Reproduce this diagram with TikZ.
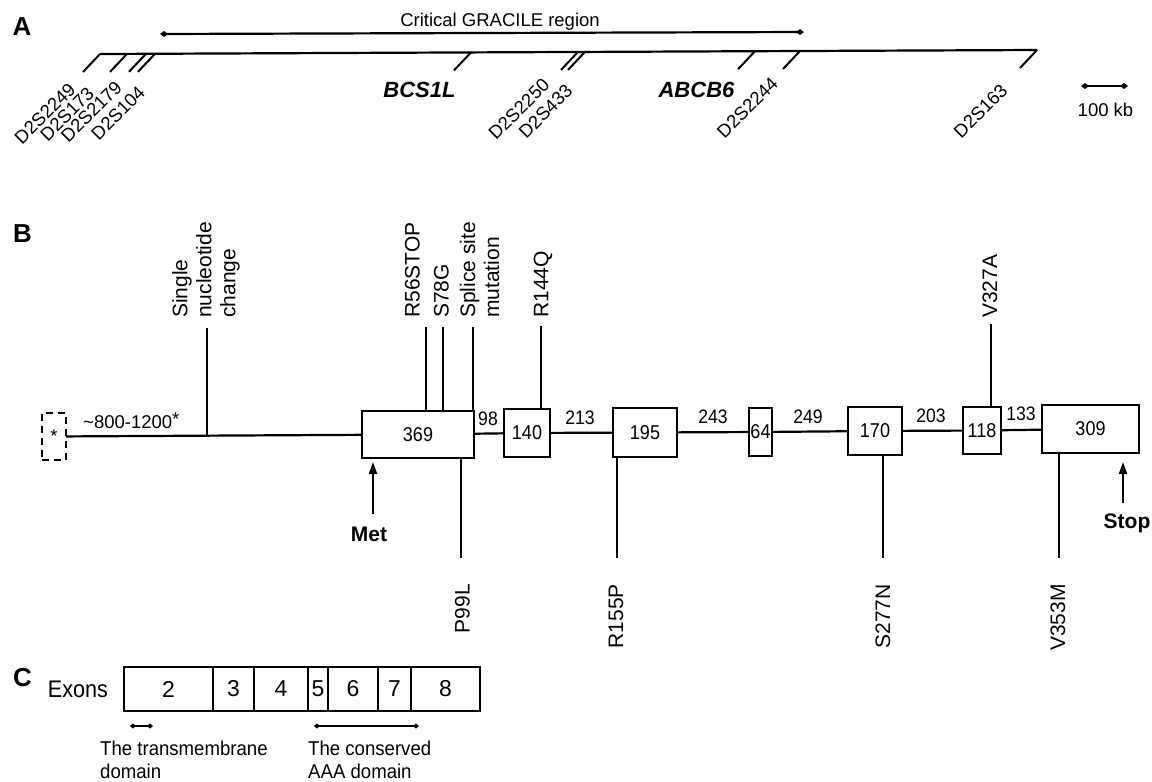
\documentclass[tikz,border=0pt]{standalone}
\usepackage{fontspec}
\setmainfont{Liberation Sans}
\newfontfamily\nfont[FakeStretch=0.9]{Liberation Sans}
\newfontfamily\cfont[FakeStretch=0.93]{Liberation Sans}
\usetikzlibrary{arrows.meta}
\begin{document}
\begin{tikzpicture}[x=1pt,y=-1pt,
  ln/.style={line width=2.2pt},
  dia/.style={line width=2.2pt,{Diamond[length=8pt,width=6pt]}-{Diamond[length=8pt,width=6pt]}},
  sdia/.style={line width=2pt,{Diamond[length=6pt,width=5pt]}-{Diamond[length=6pt,width=5pt]}},
  arr/.style={line width=2.2pt,-{Triangle[length=12pt,width=8pt]}},
  panel/.style={inner sep=0pt,font=\fontsize{26}{30}\selectfont\bfseries},
  lbl/.style={inner sep=0pt,font=\fontsize{18.5}{22}\selectfont},
  mk/.style={inner sep=0pt,rotate=45,anchor=center,font=\fontsize{18.5}{21}\selectfont},
  gene/.style={inner sep=0pt,anchor=base,font=\fontsize{22}{26}\selectfont\bfseries\itshape},
  mut/.style={inner sep=0pt,rotate=90,align=left,font=\fontsize{21}{24}\selectfont},
  exbox/.style={draw,line width=2.4pt,inner sep=0pt,outer sep=0pt,font=\nfont\fontsize{20}{24}\selectfont},
  gapn/.style={inner sep=0pt,anchor=base,font=\nfont\fontsize{19.5}{23}\selectfont},
  bold/.style={inner sep=0pt,anchor=base,font=\fontsize{21}{25}\selectfont\bfseries},
  cex/.style={draw,line width=2pt,inner sep=0pt,outer sep=0pt,minimum height=44pt,font=\fontsize{23}{27}\selectfont},
  ctext/.style={inner sep=0pt,align=left,anchor=north west,font=\cfont\fontsize{20}{23}\selectfont}
]
\useasboundingbox (0,0) rectangle (1152,782);

% ---------------- Panel A ----------------
\node[panel,anchor=base] (pa) at (22,35) {A};
\coordinate (crL) at (160,34);
\coordinate (crR) at (804,32);
\draw[dia] (crL) -- (crR);
\node[lbl,anchor=base] (crt) at (500,26) {Critical GRACILE region};

\coordinate (chL) at (100,54);
\coordinate (chR) at (1037,50);
\draw[ln] (chL) -- (chR);
\foreach \x/\y in {100/54,127/53.9,146/53.8,155/53.8,471/52.4,578/51.9,585/51.9,755/51.2,800/51,1037/50}
  \draw[line width=2pt] (\x,\y) -- ++(-17,18);

\node[mk] (m1) at (45,113.5) {D2S2249};
\node[mk] (m2) at (67,114) {D2S173};
\node[mk] (m3) at (91.5,111.5) {D2S2179};
\node[mk] (m4) at (118,113) {D2S104};
\node[mk] (m5) at (519,109) {D2S2250};
\node[mk] (m6) at (545.5,111.5) {D2S433};
\node[mk] (m7) at (747.5,107.5) {D2S2244};
\node[mk] (m8) at (980.5,111) {D2S163};

\node[gene] (g1) at (419.5,97) {BCS1L};
\node[gene] (g2) at (696.5,97) {ABCB6};

\coordinate (sbL) at (1081,86);
\coordinate (sbR) at (1128,86);
\draw[dia] (sbL) -- (sbR);
\node[lbl,anchor=base] (sbt) at (1105.5,116) {100 kb};

% ---------------- Panel B ----------------
\node[panel,anchor=base] (pb) at (22.5,242) {B};
\node[draw,line width=2.2pt,dash pattern=on 7pt off 5pt,inner sep=0pt,outer sep=0pt,
      minimum width=24pt,minimum height=47pt,font=\fontsize{18.5}{22}\selectfont] (dash) at (54,436.5) {*};

\node[exbox,minimum width=112pt,minimum height=47pt] (b369) at (418,434.5) {369};
\node[exbox,minimum width=46pt,minimum height=48pt] (b140) at (527,433) {140};
\node[exbox,minimum width=64pt,minimum height=49pt] (b195) at (645,432.5) {195};
\node[exbox,minimum width=23pt,minimum height=48pt] (b64) at (760.5,432) {64};
\node[exbox,minimum width=54pt,minimum height=48pt] (b170) at (875,431) {170};
\node[exbox,minimum width=38pt,minimum height=47pt] (b118) at (982,430.5) {118};
\node[exbox,minimum width=97pt,minimum height=48pt] (b309) at (1090.5,429) {309};

\draw[ln] (dash) -- (b369);
\draw[ln] (b369) -- (b140);
\draw[ln] (b140) -- (b195);
\draw[ln] (b195) -- (b64);
\draw[ln] (b64) -- (b170);
\draw[ln] (b170) -- (b118);
\draw[ln] (b118) -- (b309);

\node[lbl,anchor=base west] (rng) at (83,428) {\textasciitilde800-1200\raisebox{3pt}{*}};
\node[gapn] (n98) at (488,425) {98};
\node[gapn] (n213) at (580,424) {213};
\node[gapn] (n243) at (713,423) {243};
\node[gapn] (n249) at (808,423) {249};
\node[gapn] (n203) at (931,422) {203};
\node[gapn] (n133) at (1021,420) {133};

% mutations above
\coordinate (tSN) at (207,328);
\coordinate (tR56) at (426,327);
\coordinate (tS78) at (443,327);
\coordinate (tSp) at (473,327);
\coordinate (tR144) at (541,326);
\coordinate (tV327) at (991,324);
\draw[ln] (tSN) -- (tSN |- dash.east);
\draw[ln] (tR56) -- (tR56 |- b369.north);
\draw[ln] (tS78) -- (tS78 |- b369.north);
\draw[ln] (tSp) -- (tSp |- b369.north);
\draw[ln] (tR144) -- (tR144 |- b140.north);
\draw[ln] (tV327) -- (tV327 |- b118.north);

\node[mut,anchor=west] (lSN) at (206,318) {Single\\nucleotide\\change};
\node[mut,anchor=west] (lR56) at (412.5,318) {R56STOP};
\node[mut,anchor=west] (lS78) at (441.5,318) {S78G};
\node[mut,anchor=west] (lSp) at (479.7,318) {Splice site\\mutation};
\node[mut,anchor=west] (lR144) at (543,318) {R144Q};
\node[mut,anchor=west] (lV327) at (990,318) {V327A};

% mutations below
\coordinate (bP99) at (461,558);
\coordinate (bR155) at (617,558);
\coordinate (bS277) at (883,558);
\coordinate (bV353) at (1059,558);
\draw[ln] (bP99 |- b369.south) -- (bP99);
\draw[ln] (bR155 |- b195.south) -- (bR155);
\draw[ln] (bS277 |- b170.south) -- (bS277);
\draw[ln] (bV353 |- b309.south) -- (bV353);

\node[mut,anchor=east] (lP99) at (462.5,584) {P99L};
\node[mut,anchor=east] (lR155) at (616,584) {R155P};
\node[mut,anchor=east] (lS277) at (883,584) {S277N};
\node[mut,anchor=east] (lV353) at (1058,584) {V353M};

% Met / Stop
\coordinate (metA) at (373,514);
\coordinate (stA) at (1123,503);
\draw[arr,shorten >=4pt] (metA) -- (metA |- b369.south);
\draw[arr,shorten >=9pt] (stA) -- (stA |- b309.south);
\node[bold] (met) at (369,541) {Met};
\node[bold] (stop) at (1127,528) {Stop};

% ---------------- Panel C ----------------
\node[panel,anchor=base] (pc) at (22.5,686) {C};
\node[inner sep=0pt,anchor=base,font=\nfont\fontsize{24}{28}\selectfont] (exl) at (78,697) {Exons};
\node[cex,minimum width=89pt] (e2) at (168.5,689) {2};
\node[cex,minimum width=41pt] (e3) at (233.5,689) {3};
\node[cex,minimum width=54pt] (e4) at (281,689) {4};
\node[cex,minimum width=20pt] (e5) at (318,689) {5};
\node[cex,minimum width=50pt] (e6) at (353,689) {6};
\node[cex,minimum width=33pt] (e7) at (394.5,689) {7};
\node[cex,minimum width=69pt] (e8) at (445.5,689) {8};

\coordinate (tmL) at (130,726);
\coordinate (tmR) at (153,726);
\coordinate (aaL) at (314,726);
\coordinate (aaR) at (419,726);
\draw[sdia] (tmL) -- (tmR);
\draw[sdia] (aaL) -- (aaR);
\node[ctext] (tmt) at (100,741) {The transmembrane\\domain};
\node[ctext] (aat) at (308,741) {The conserved\\AAA domain};
\end{tikzpicture}
\end{document}
